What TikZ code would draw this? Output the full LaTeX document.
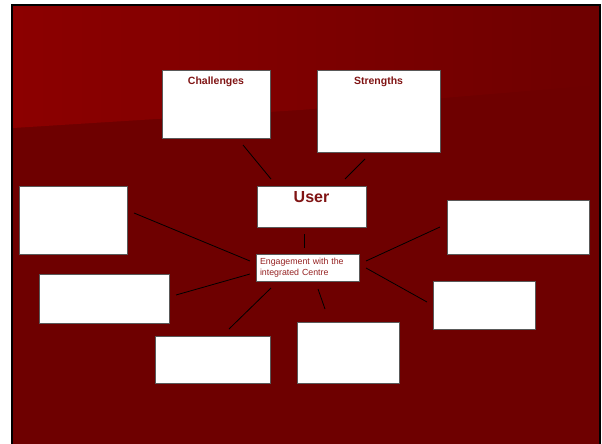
\documentclass[tikz,border=0pt]{standalone}
\usepackage{fontspec}
\setmainfont{Liberation Sans}
\usetikzlibrary{calc}
\definecolor{slidered}{RGB}{110,0,0}
\definecolor{bandred}{RGB}{140,0,0}
\definecolor{titlered}{RGB}{128,20,20}
\definecolor{smallred}{RGB}{150,35,35}
\tikzstyle{box} = [draw=black!65, fill=white, line width=0.8pt, inner sep=0pt]
\tikzstyle{title} = [font=\bfseries\fontsize{10.5}{12}\selectfont, text=titlered]
\tikzstyle{bigtitle} = [font=\bfseries\fontsize{16}{18}\selectfont, text=titlered]
\tikzstyle{link} = [black, line width=0.8pt]

\begin{document}
\begin{tikzpicture}[x=1pt, y=-1pt]
  % Slide background
  \useasboundingbox (0,0) rectangle (602,444);
  \fill[white] (0,0) rectangle (602,444);
  \fill[slidered] (12,5) rectangle (600,450);
  \shade[left color=bandred, right color=slidered] (13,6) -- (599,6) -- (599,85) -- (300,110) -- (13,128) -- cycle;
  \draw[line width=2pt] (12,5) rectangle (600,450);
  % Boxes
  \node[box, minimum width=108pt, minimum height=68pt,
    label={[title, anchor=north, yshift=-4pt]north:Challenges}] (chal) at (216,104) {};
  \node[box, minimum width=123pt, minimum height=82pt,
    label={[title, anchor=north, yshift=-4pt]north:Strengths}] (str) at (378.5,111) {};
  \node[box, minimum width=109pt, minimum height=41pt,
    label={[bigtitle, anchor=north, yshift=-2pt]north:User}] (user) at (311.5,206.5) {};
  \node[box, text width=95pt, inner xsep=4pt, minimum height=27pt, align=left,
    font=\fontsize{8.8}{11.5}\selectfont, text=smallred] (eng) at (307.5,267.5) {Engagement with the\\integrated Centre};
  \node[box, minimum width=108pt, minimum height=68pt] (left1) at (73,220) {};
  \node[box, minimum width=130pt, minimum height=49pt] (left2) at (104,298.5) {};
  \node[box, minimum width=115pt, minimum height=47pt] (bot1) at (212.5,359.5) {};
  \node[box, minimum width=102pt, minimum height=61pt] (bot2) at (348,352.5) {};
  \node[box, minimum width=142pt, minimum height=54pt] (right1) at (518,227) {};
  \node[box, minimum width=102pt, minimum height=48pt] (right2) at (484,305) {};
  % Links (they stop short of the boxes)
  \foreach \a/\ax/\ay/\b/\bx/\by in {chal/27/41/user/-40.5/-27.5, str/-13.5/48/user/33.5/-27.5,
      user/-7.5/27.5/eng/-3.5/-19.5, left1/61/-7/eng/-57.5/-6.5, left2/72/-3.5/eng/-57.5/6.5,
      bot1/16.5/-30.5/eng/-36.5/20.5, bot2/-23/-43.5/eng/10.5/21.5,
      right1/-78/0/eng/58.5/-6.5, right2/-57/-3/eng/58.5/0.5} {
    \draw[link] ($(\a)+(\ax,\ay)$) -- ($(\b)+(\bx,\by)$);
  }
\end{tikzpicture}
\end{document}
